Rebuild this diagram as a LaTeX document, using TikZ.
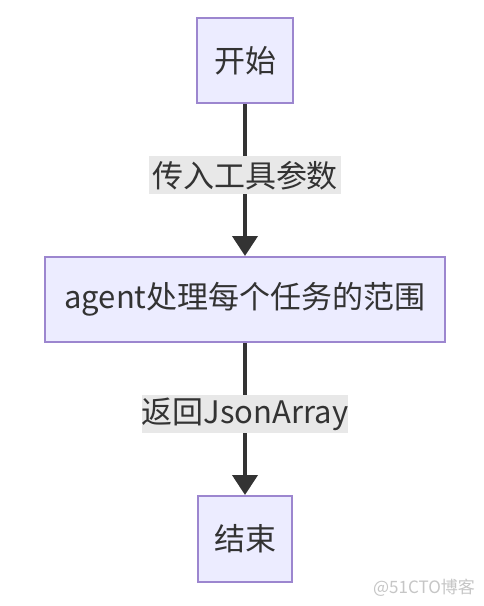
\documentclass[tikz,border=0pt]{standalone}
\usepackage{fontspec}
\setmainfont{Noto Sans CJK SC}
\usetikzlibrary{positioning, calc, arrows.meta}

\definecolor{boxfill}{HTML}{ECECFF}
\definecolor{boxline}{HTML}{9C86CF}
\definecolor{linkcol}{HTML}{333333}
\definecolor{labfill}{HTML}{E8E8E8}
\definecolor{textcol}{HTML}{333333}

\tikzset{
  flowbox/.style={draw=boxline, fill=boxfill, line width=2pt, inner sep=0pt,
    text=textcol, font=\fontsize{31pt}{36pt}\selectfont},
  edgelab/.style={fill=labfill, inner sep=0pt, minimum height=38pt,
    text=textcol, font=\fontsize{31pt}{36pt}\selectfont},
  link/.style={draw=linkcol, line width=4pt,
    -{Triangle[length=20pt, width=25pt]}}
}

\begin{document}
\begin{tikzpicture}[x=1pt, y=-1pt]
    % Canvas
    \useasboundingbox[fill=white] (0,0) rectangle (484,606);

    % Boxes
    \node[flowbox, minimum width=96pt, minimum height=85pt] (start) at (245,60.5) {开始};
    \node[flowbox, minimum width=400pt, minimum height=85pt] (agent) at (245,299.5) {agent处理每个任务的范围};
    \node[flowbox, minimum width=94pt, minimum height=86pt] (finish) at (245,539) {结束};

    % Links with labels
    \draw[link] (start) -- (agent) node[edgelab, minimum width=192pt, pos=0.47] (params) {传入工具参数};
    \draw[link] (agent) -- (finish) node[edgelab, minimum width=203pt, pos=0.47] (result) {返回JsonArray};

    % Watermark
    \node[text=gray!45, font=\fontsize{17pt}{20pt}\selectfont] (mark) at (424,588) {@51CTO博客};
\end{tikzpicture}
\end{document}
